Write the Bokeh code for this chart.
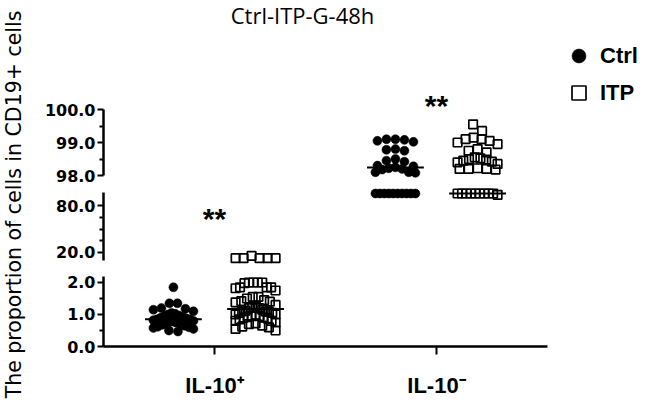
import numpy as np
from bokeh.plotting import figure
from bokeh.layouts import row, column
from bokeh.models import (Range1d, FixedTicker, PrintfTickFormatter, Label,
                          Legend, LegendItem)
from bokeh.embed import file_html
from bokeh.resources import INLINE

# ---------------- data ----------------
categories = ["IL-10\u207a", "IL-10\u207b"]
cat_pos = [1, 2]

ctrl_il10_pos = [1.85, 1.35, 1.35, 1.2, 1.18, 1.15, 1.1, 1.05, 1.02, 1.0, 0.97,
                 0.95, 0.92, 0.9, 0.88, 0.85, 0.85, 0.82, 0.8, 0.78, 0.75, 0.72,
                 0.7, 0.68, 0.65, 0.62, 0.6, 0.58, 0.55, 0.5, 0.47]
itp_il10_pos = [15.5, 12.5, 12.5, 12.5, 12.5, 12.5, 2.0, 2.0, 2.0, 1.98, 2.0,
                1.85, 1.85, 1.82, 1.85, 1.75, 1.55, 1.55, 1.5, 1.45, 1.42, 1.38,
                1.4, 1.3, 1.25, 1.22, 1.2, 1.2, 1.15, 1.12, 1.1, 1.1, 1.08, 1.05,
                1.05, 1.0, 1.0, 0.98, 0.95, 0.95, 0.92, 0.9, 0.9, 0.88, 0.85,
                0.8, 0.8, 0.75, 0.72, 0.7, 0.65, 0.62, 0.6, 0.55, 0.5]
ctrl_il10_neg = [99.1, 99.05, 99.08, 99.1, 99.02, 98.8, 98.75, 98.78, 98.5,
                 98.45, 98.42, 98.3, 98.28, 98.25, 98.22, 98.2, 98.18, 98.1,
                 98.08, 98.1, 95.7, 95.7, 95.7, 95.7, 95.7, 95.7, 95.7, 95.7,
                 95.7, 95.7]
itp_il10_neg = [99.55, 99.35, 99.15, 99.1, 99.05, 99.1, 99.0, 98.95, 98.8,
                98.75, 98.7, 98.55, 98.5, 98.48, 98.52, 98.45, 98.4, 98.42,
                98.35, 98.2, 98.18, 98.2, 98.22, 98.2, 95.7, 95.7, 95.7, 95.7,
                95.7, 95.7, 95.7, 95.7, 95.7, 94.0]
ctrl_median = [0.85, 98.24]
itp_median = [1.17, 95.7]
significance = ["**", "**"]
sig_y = [63.5, 100.12]

y_ticks_top = [98, 99, 100]
y_minor_top = [98.5, 99.5]
y_ticks_mid = [20, 80]
y_minor_mid = [35, 50, 65]
y_ticks_bot = [0, 1, 2]
y_minor_bot = [0.5, 1.5]

# ---------------- layout constants ----------------
FRAME_W = 542
PX_PER_X = 222.0
X_RANGE = Range1d(0.5, 0.5 + FRAME_W / PX_PER_X)
DODGE = 0.185
MED_HALF = 0.128

segs = {
    "top": dict(rng=(97.758, 97.758 + 183 / 33.0), bounds=(98, 100), fh=183,
                mt=0, mb=2, ticks=y_ticks_top, minor=y_minor_top),
    "mid": dict(rng=(0.47, 106.0), bounds=(9.5, 97), fh=82, mt=0, mb=1,
                ticks=y_ticks_mid, minor=y_minor_mid),
    "bot": dict(rng=(0.0, 2.406), bounds=(0, 2.2), fh=77, mt=1, mb=59,
                ticks=y_ticks_bot, minor=y_minor_bot),
}


def seg_of(v):
    if v >= 97.7:
        return "top"
    if v > 3:
        return "mid"
    return "bot"


def ppu(name):
    s = segs[name]
    return s["fh"] / (s["rng"][1] - s["rng"][0])


def swarm(vals, name, d=9.0, maxw=40.0):
    vals = np.asarray(vals, float)
    if len(vals) == 0:
        return np.zeros(0)
    ypx = vals * ppu(name)
    order = np.argsort(-vals, kind="stable")
    rows, cur = [], []
    for i in order:
        if cur and ypx[cur[0]] - ypx[i] > d * 0.9:
            rows.append(cur)
            cur = []
        cur.append(i)
    if cur:
        rows.append(cur)
    offs = np.zeros(len(vals))
    for r in rows:
        n = len(r)
        s = d if n < 2 else min(d, maxw / (n - 1))
        slots = sorted([(k - (n - 1) / 2.0) * s for k in range(n)],
                       key=lambda o: (abs(o), o))
        for k, i in enumerate(r):
            offs[i] = slots[k]
    return offs / PX_PER_X


figs = {}
for name, s in segs.items():
    p = figure(frame_width=FRAME_W, frame_height=s["fh"],
               min_border_left=75, min_border_right=0,
               min_border_top=s["mt"], min_border_bottom=s["mb"],
               x_range=X_RANGE, y_range=Range1d(*s["rng"]),
               x_axis_location="below" if name == "bot" else None,
               output_backend="svg", toolbar_location=None, tools="")
    p.outline_line_color = None
    p.xgrid.visible = False
    p.ygrid.visible = False
    p.background_fill_color = "white"
    ya = p.yaxis[0]
    ya.ticker = FixedTicker(ticks=s["ticks"], minor_ticks=s["minor"])
    ya.formatter = PrintfTickFormatter(format="%.1f")
    ya.bounds = s["bounds"]
    ya.axis_line_width = 2.5
    ya.axis_line_color = "black"
    ya.major_tick_line_width = 2
    ya.minor_tick_line_width = 2
    ya.major_tick_out = 6
    ya.major_tick_in = 0
    ya.minor_tick_out = 4
    ya.minor_tick_in = 0
    ya.major_label_standoff = 2
    ya.major_label_text_font = "DejaVu Sans"
    ya.major_label_text_font_style = "bold"
    ya.major_label_text_font_size = "16px"
    ya.major_label_text_color = "black"
    figs[name] = p

bot = figs["bot"]
xa = bot.xaxis[0]
xa.ticker = FixedTicker(ticks=cat_pos)
xa.major_label_overrides = {c: t for c, t in zip(cat_pos, categories)}
xa.bounds = (0.5, 2.5)
xa.axis_line_width = 2.5
xa.major_tick_line_width = 2
xa.major_tick_out = 8
xa.major_tick_in = 0
xa.minor_tick_line_color = None
xa.major_label_standoff = 18
xa.major_label_text_font = "Liberation Sans"
xa.major_label_text_font_style = "bold"
xa.major_label_text_font_size = "22px"
xa.major_label_text_color = "black"

groups = [
    ("Ctrl", ctrl_il10_pos, cat_pos[0] - DODGE),
    ("ITP", itp_il10_pos, cat_pos[0] + DODGE),
    ("Ctrl", ctrl_il10_neg, cat_pos[1] - DODGE),
    ("ITP", itp_il10_neg, cat_pos[1] + DODGE),
]
legend_r = {}
for label, vals, xc in groups:
    for name in segs:
        sv = [v for v in vals if seg_of(v) == name]
        if not sv:
            continue
        xs = xc + swarm(sv, name)
        p = figs[name]
        if label == "Ctrl":
            r = p.scatter(xs, sv, marker="circle", size=9, fill_color="black",
                          line_color="black", line_width=0.5)
        else:
            r = p.scatter(xs, sv, marker="square", size=8.5, fill_color=None,
                          line_color="black", line_width=1.7)
        if name == "top":
            legend_r[label] = r

# medians
for i, xc in enumerate(cat_pos):
    for med, x0 in ((ctrl_median[i], xc - DODGE), (itp_median[i], xc + DODGE)):
        p = figs[seg_of(med)]
        p.segment(x0=[x0 - MED_HALF], x1=[x0 + MED_HALF], y0=[med], y1=[med],
                  line_color="black", line_width=2)

# significance marks
for i, xc in enumerate(cat_pos):
    p = figs[seg_of(sig_y[i])]
    p.add_layout(Label(x=xc, y=sig_y[i], text=significance[i],
                       text_align="center", text_baseline="alphabetic",
                       text_font="Liberation Sans", text_font_style="bold",
                       text_font_size="30px", text_color="black"))

top = figs["top"]
top.add_layout(Label(x=199, y=169, x_units="screen", y_units="screen",
                     text="Ctrl-ITP-G-48h", text_align="center",
                     text_baseline="middle", text_font="Open Sans",
                     text_font_size="22px", text_color="black"))
legend = Legend(items=[LegendItem(label="Ctrl", renderers=[legend_r["Ctrl"]]),
                       LegendItem(label="ITP", renderers=[legend_r["ITP"]])],
                location=(458, 73), orientation="vertical",
                glyph_width=35, glyph_height=35, label_height=35,
                label_standoff=4, spacing=2, padding=0, margin=0,
                border_line_color=None, background_fill_alpha=0,
                label_text_font="Liberation Sans",
                label_text_font_style="bold", label_text_font_size="22px",
                label_text_color="black")
top.add_layout(legend)

# y label column
total_h = sum(s["mt"] + s["fh"] + s["mb"] for s in segs.values())
lab = figure(width=28, height=total_h, x_range=(0, 1), y_range=(0, 1),
             x_axis_location=None, y_axis_location=None,
             min_border_left=0, min_border_right=0, min_border_top=0,
             min_border_bottom=0, output_backend="svg",
             toolbar_location=None, tools="")
lab.outline_line_color = None
lab.xgrid.visible = False
lab.ygrid.visible = False
lab.add_layout(Label(x=13, y=total_h - 204, x_units="screen", y_units="screen",
                     text="The proportion of cells in CD19+ cells",
                     angle=np.pi / 2, text_align="center",
                     text_baseline="middle", text_font="DejaVu Sans",
                     text_font_size="20.5px", text_color="black"))

layout = row(lab, column(figs["top"], figs["mid"], figs["bot"]))
open("out.html", "w").write(file_html(layout, INLINE))
